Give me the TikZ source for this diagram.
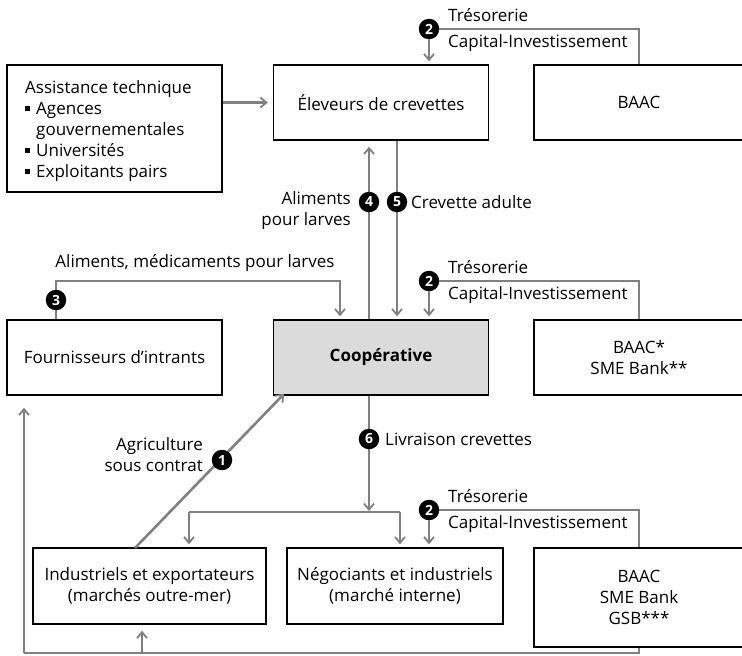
\documentclass[tikz,border=0pt]{standalone}
\usepackage{fontspec}
\setmainfont{Open Sans}
\usetikzlibrary{arrows.meta,calc}
\begin{document}
\begin{tikzpicture}[x=1pt,y=-1pt,
  font=\fontsize{17}{21}\selectfont,
  box/.style={draw=black,line width=1.4pt,inner sep=0pt,align=center},
  flow/.style={draw=black!50,line width=2.6pt},
  arr/.style={flow,-{Straight Barb[length=6pt,width=10pt,line width=1.8pt]},shorten >=3pt},
  num/.style={circle,fill=black,text=white,inner sep=0pt,minimum size=20.5pt,font=\fontsize{14}{16}\selectfont\bfseries},
  lbl/.style={inner sep=0pt,align=left}]
\useasboundingbox (0,0) rectangle (742,656);

% boxes
\node[box,minimum width=215pt,minimum height=127pt] (assist) at (114.5,128.5) {};
\node[lbl,anchor=north west] (assisttxt) at (25,80) {Assistance technique\\
  \rule[3pt]{5pt}{5pt}\hspace{6pt}Agences\\
  \hspace{11pt}gouvernementales\\
  \rule[3pt]{5pt}{5pt}\hspace{6pt}Universités\\
  \rule[3pt]{5pt}{5pt}\hspace{6pt}Exploitants pairs};
\node[box,minimum width=215pt,minimum height=75pt] (elev) at (381,102.5) {Éleveurs de crevettes};
\node[box,minimum width=210pt,minimum height=75pt] (baacA) at (639,102.5) {BAAC};
\node[box,minimum width=215pt,minimum height=75pt] (fourn) at (114.5,357.5) {Fournisseurs d’intrants};
\node[box,minimum width=215pt,minimum height=75pt,fill=black!14] (coop) at (381,357.5) {\bfseries Coopérative};
\node[box,minimum width=210pt,minimum height=75pt] (baacB) at (639,357.5) {BAAC*\\SME Bank**};
\node[box,minimum width=233pt,minimum height=76pt] (indus) at (149.5,586) {Industriels et exportateurs\\(marchés outre-mer)};
\node[box,minimum width=216pt,minimum height=76pt] (nego) at (395,586) {Négociants et industriels\\(marché interne)};
\node[box,minimum width=210pt,minimum height=99pt] (baacC) at (639,597.5) {BAAC\\SME Bank\\GSB***};

% technical assistance
\draw[arr,shorten >=5pt] (assist.east |- elev.west) -- (elev.west);

% financing links (2)
\foreach \m/\bank/\tgt/\y in {nA/baacA/elev/29, nB/baacB/coop/281, nC/baacC/nego/510}{
  \node[num] (\m) at (429,\y) {2};
  \draw[flow] (\m) -| (\bank.north);
  \draw[arr] (\m) -- (\tgt.north -| \m);
  \node[lbl,anchor=west] at (448,\y-14) {Trésorerie};
  \node[lbl,anchor=west] at (448,\y+14) {Capital-Investissement};
}

% feed and adult shrimp between farmers and cooperative
\coordinate (c4) at (369,0);
\coordinate (c5) at (397,0);
\draw[arr,shorten >=6pt] (coop.north -| c4) -- (elev.south -| c4);
\draw[arr] (elev.south -| c5) -- (coop.north -| c5);
\node[num] (n4) at (369,202) {4};
\node[num] (n5) at (397,202) {5};
\node[lbl,anchor=east,align=right] at (351,211) {Aliments\\pour larves};
\node[lbl,anchor=west] at (411,202) {Crevette adulte};

% inputs
\coordinate (c3) at (56,281);
\coordinate (c3b) at (340,281);
\draw[arr] (fourn.north -| c3) -- (c3) -- (c3b) -- (coop.north -| c3b);
\node[num] (n3) at (56,300) {3};
\node[lbl] at (195,263) {Aliments, médicaments pour larves};

% contract farming
\coordinate (c1a) at (135,548);
\coordinate (c1b) at (282,396);
\draw[arr,shorten >=-3pt] (c1a) -- (c1b);
\node[num] (n1) at (222,460) {1};
\node[lbl,anchor=east,align=right] at (203,455) {Agriculture\\sous contrat};

% delivery
\coordinate (c6) at (369,512);
\draw[arr,shorten >=1pt] (coop.south -| c6) -- (c6);
\node[num] (n6) at (369,439) {6};
\node[lbl,anchor=west] at (385,439) {Livraison crevettes};
\coordinate (d1) at (189,512);
\coordinate (d2) at (400,512);
\draw[flow] (d1) -- (d2);
\draw[arr] (d1) -- (indus.north -| d1);
\draw[arr] (d2) -- (nego.north -| d2);

% bottom return line
\coordinate (b0) at (639,653);
\coordinate (b1) at (24,653);
\coordinate (b2) at (142,653);
\draw[flow] (baacC.south) -- (b0) -- (b1);
\draw[arr,shorten >=12pt] (b1) -- (fourn.south -| b1);
\draw[arr,shorten >=6pt] (b2) -- (indus.south -| b2);
\end{tikzpicture}
\end{document}
